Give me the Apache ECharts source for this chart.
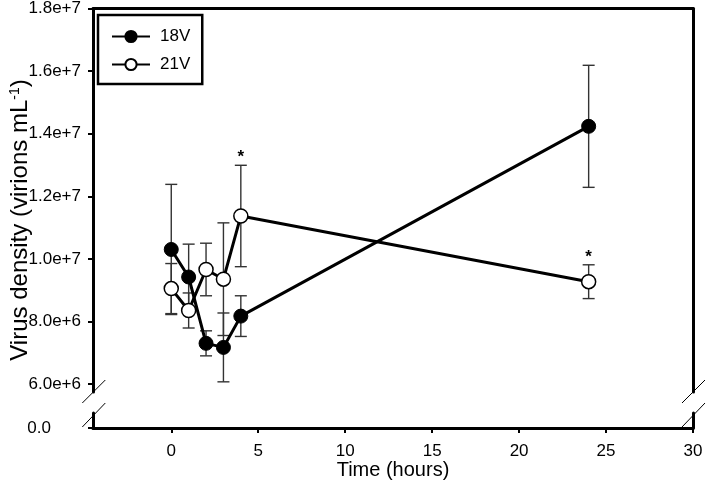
<!DOCTYPE html>
<html><head><meta charset="utf-8">
<script src="https://cdn.jsdelivr.net/npm/echarts@6/dist/echarts.min.js"></script>
<style>html,body{margin:0;padding:0;background:#fff}#c{width:707px;height:484px}</style>
</head><body><div id="c"></div>
<script>
// ---- data ----
const hours = [0, 1, 2, 3, 4, 24];
const v18 = [1.03e7, 9.42e6, 7.30e6, 7.17e6, 8.17e6, 1.4235e7];
const e18 = [2.08e6, 1.05e6, 0.40e6, 1.10e6, 0.65e6, 1.95e6];
const v21 = [9.05e6, 8.35e6, 9.66e6, 9.35e6, 1.137e7, 9.27e6];
const e21 = [0.80e6, 0.56e6, 0.84e6, 1.80e6, 1.62e6, 0.54e6];
const sig21 = ['', '', '', '', '*', '*'];
const yTicks = [6e6, 8e6, 1e7, 1.2e7, 1.4e7, 1.6e7, 1.8e7];
const yTickLabels = ['6.0e+6', '8.0e+6', '1.0e+7', '1.2e+7', '1.4e+7', '1.6e+7', '1.8e+7'];
const lowTicks = [0];
const lowTickLabels = ['0.0'];
const xTicks = [0, 5, 10, 15, 20, 25, 30];
const seriesNames = ['18V', '21V'];

const FONT = '"Liberation Sans", Arial, sans-serif';
const chart = echarts.init(document.getElementById('c'), null, {renderer: 'canvas'});

const L = 93, R = 14;          // grid left / right
const TOP_T = 8, TOP_B = 92;   // upper panel
const LOW_T = 413, LOW_B = 56; // lower panel
const X_MIN = -4.5, X_MAX = 30;
const Y_MAX = 1.8e7, Y_MIN_TOP = 5.745e6, Y_MAX_LOW = 0.48e6;

function errData(v, e) { return hours.map((h, i) => [h, v[i] - e[i], v[i] + e[i]]); }
function errRender(params, api) {
  const x = api.value(0), lo = api.value(1), hi = api.value(2);
  const pHi = api.coord([x, hi]), pLo = api.coord([x, lo]);
  const w = 6;
  const st = {stroke: '#333', lineWidth: 1.4};
  return {type: 'group', children: [
    {type: 'line', shape: {x1: pHi[0], y1: pHi[1], x2: pLo[0], y2: pLo[1]}, style: st},
    {type: 'line', shape: {x1: pHi[0] - w, y1: pHi[1], x2: pHi[0] + w, y2: pHi[1]}, style: st},
    {type: 'line', shape: {x1: pLo[0] - w, y1: pLo[1], x2: pLo[0] + w, y2: pLo[1]}, style: st}
  ]};
}
function starRender(params, api) {
  const x = api.value(0), hi = api.value(1);
  const p = api.coord([x, hi]);
  return {type: 'text', x: p[0], y: p[1] + 1,
    style: {text: sig21[params.dataIndex], textAlign: 'center', textVerticalAlign: 'bottom',
      font: 'bold 17px ' + FONT, fill: '#000'}};
}

const lineAx = {onZero: false, lineStyle: {color: '#000', width: 3}};
const lab = {color: '#000', fontSize: 17, fontFamily: FONT};
const option = {
  animation: false,
  backgroundColor: '#fff',
  grid: [
    {left: L, right: R, top: TOP_T, bottom: TOP_B},
    {left: L, right: R, top: LOW_T, bottom: LOW_B},
    {left: L, right: R, top: TOP_T, bottom: LOW_B}
  ],
  xAxis: [
    {gridIndex: 0, type: 'value', position: 'top', min: X_MIN, max: X_MAX,
      axisLine: lineAx, axisTick: {show: false}, axisLabel: {show: false}, splitLine: {show: false}},
    {gridIndex: 1, type: 'value', position: 'bottom', min: X_MIN, max: X_MAX,
      axisLine: lineAx,
      axisTick: {show: true, customValues: xTicks, length: 5, lineStyle: {color: '#000', width: 2}},
      axisLabel: Object.assign({show: true, customValues: xTicks, margin: 15}, lab),
      splitLine: {show: false},
      name: 'Time (hours)', nameLocation: 'middle', nameGap: 29,
      nameTextStyle: {color: '#000', fontSize: 20, fontFamily: FONT}},
    {gridIndex: 2, type: 'value', min: X_MIN, max: X_MAX, show: false}
  ],
  yAxis: [
    {gridIndex: 0, type: 'value', position: 'left', min: Y_MIN_TOP, max: Y_MAX,
      axisLine: lineAx,
      axisTick: {show: true, customValues: yTicks, length: 5, lineStyle: {color: '#000', width: 2}},
      axisLabel: Object.assign({show: true, customValues: yTicks, margin: 12,
        formatter: v => yTickLabels[yTicks.indexOf(v)] || ''}, lab),
      splitLine: {show: false}},
    {gridIndex: 0, type: 'value', position: 'right', min: Y_MIN_TOP, max: Y_MAX,
      axisLine: lineAx, axisTick: {show: false}, axisLabel: {show: false}, splitLine: {show: false}},
    {gridIndex: 1, type: 'value', position: 'left', min: 0, max: Y_MAX_LOW,
      axisLine: lineAx,
      axisTick: {show: true, customValues: lowTicks, length: 5, lineStyle: {color: '#000', width: 2}},
      axisLabel: Object.assign({show: true, customValues: lowTicks, margin: 42,
        formatter: v => lowTickLabels[lowTicks.indexOf(v)] || ''}, lab),
      splitLine: {show: false}},
    {gridIndex: 1, type: 'value', position: 'right', min: 0, max: Y_MAX_LOW,
      axisLine: lineAx, axisTick: {show: false}, axisLabel: {show: false}, splitLine: {show: false}},
    {gridIndex: 2, type: 'value', position: 'left', min: 0, max: 1,
      axisLine: {show: false}, axisTick: {show: false}, axisLabel: {show: false}, splitLine: {show: false},
      name: 'Virus density (virions mL{sup|-1})', nameLocation: 'middle', nameGap: 63, nameRotate: 90,
      nameTextStyle: {color: '#000', fontSize: 24, fontFamily: FONT, padding: [0, 4, 0, 0],
        rich: {sup: {fontSize: 14, fontFamily: FONT, color: '#000', verticalAlign: 'top', lineHeight: 14, padding: [0, 0, 9, 0]}}}}
  ],
  legend: {
    data: seriesNames, orient: 'vertical', left: 98, top: 15,
    borderColor: '#000', borderWidth: 2.5, borderRadius: 0, padding: [13, 12, 11, 13],
    itemWidth: 38, itemHeight: 14, itemGap: 11,
    textStyle: {color: '#000', fontSize: 17, fontFamily: FONT, padding: [0, 0, 0, 5]}
  },
  series: [
    {type: 'custom', name: 'err18', xAxisIndex: 0, yAxisIndex: 0, renderItem: errRender,
      data: errData(v18, e18), z: 1, encode: {x: 0, y: [1, 2]}},
    {type: 'custom', name: 'err21', xAxisIndex: 0, yAxisIndex: 0, renderItem: errRender,
      data: errData(v21, e21), z: 1, encode: {x: 0, y: [1, 2]}},
    {type: 'line', name: seriesNames[0], xAxisIndex: 0, yAxisIndex: 0,
      data: hours.map((h, i) => [h, v18[i]]),
      symbol: 'circle', symbolSize: 14,
      itemStyle: {color: '#000', borderColor: '#000', borderWidth: 1},
      lineStyle: {color: '#000', width: 3}, z: 3},
    {type: 'line', name: seriesNames[1], xAxisIndex: 0, yAxisIndex: 0,
      data: hours.map((h, i) => [h, v21[i]]),
      symbol: 'circle', symbolSize: 14,
      itemStyle: {color: '#fff', borderColor: '#000', borderWidth: 1.5},
      lineStyle: {color: '#000', width: 3}, z: 4},
    {type: 'custom', name: 'sig', xAxisIndex: 0, yAxisIndex: 0, renderItem: starRender,
      data: hours.map((h, i) => [h, v21[i] + e21[i]]), z: 5, encode: {x: 0, y: 1}}
  ]
};
chart.setOption(option);

// axis-break marks (decorations at the two broken vertical axes)
const breakMarks = [];
[L + 0.3, 707 - R].forEach(ax => {
  const yUpper = 484 - TOP_B, yLower = LOW_T;
  breakMarks.push({type: 'line', shape: {x1: ax - 11, y1: yUpper + 11, x2: ax + 12, y2: yUpper - 12}, style: {stroke: '#000', lineWidth: 1}});
  breakMarks.push({type: 'line', shape: {x1: ax - 11, y1: yLower + 14, x2: ax + 12, y2: yLower - 10}, style: {stroke: '#000', lineWidth: 1}});
});
chart.setOption({graphic: breakMarks});
</script></body></html>
